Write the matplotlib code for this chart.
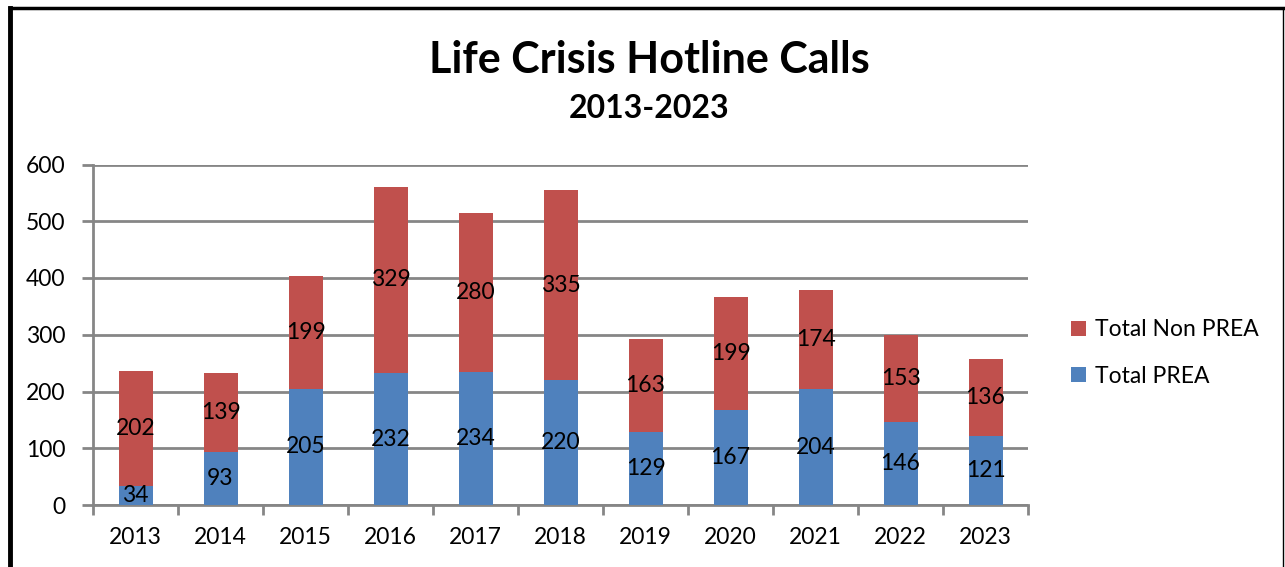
import matplotlib
matplotlib.use("Agg")
import matplotlib.pyplot as plt
from matplotlib.lines import Line2D
import numpy as np

years = ["2013", "2014", "2015", "2016", "2017", "2018", "2019", "2020", "2021", "2022", "2023"]
prea = [34, 93, 205, 232, 234, 220, 129, 167, 204, 146, 121]
non_prea = [202, 139, 199, 329, 280, 335, 163, 199, 174, 153, 136]

plt.rcParams['font.family'] = ['Lato', 'DejaVu Sans']

blue = '#4F81BD'
red = '#C0504D'
grid_col = '#868686'

fig = plt.figure(figsize=(12.85, 5.67), dpi=100)
ax = fig.add_axes([93/1285, 1 - 505/567, (1028 - 93)/1285, (505 - 164.5)/567])

x = np.arange(len(years))
b1 = ax.bar(x, prea, width=0.4, color=blue, label="Total PREA", zorder=3)
b2 = ax.bar(x, non_prea, width=0.4, bottom=prea, color=red, label="Total Non PREA", zorder=3)

# value labels centred in each segment
for i in range(len(years)):
    ax.text(x[i], prea[i] / 2, str(prea[i]), ha='center', va='center', fontsize=16.5, zorder=4)
    ax.text(x[i], prea[i] + non_prea[i] / 2, str(non_prea[i]), ha='center', va='center', fontsize=16.5, zorder=4)

ax.set_xlim(-0.5, len(years) - 0.5)
ax.set_ylim(0, 600)
ax.set_yticks(range(0, 601, 100))
ax.yaxis.grid(True, color=grid_col, lw=2, zorder=0)
ax.set_axisbelow(True)

ax.set_xticks(x)
ax.set_xticklabels(years, fontsize=16.5)
ax.set_xticks(np.arange(-0.5, len(years) + 0.5, 1), minor=True)
ax.tick_params(axis='x', which='major', length=0, pad=16)
ax.tick_params(axis='x', which='minor', length=7, width=2, color=grid_col, direction='out')
ax.tick_params(axis='y', length=8, width=2, color=grid_col, labelsize=16.5, pad=12)

for s in ['top', 'right']:
    ax.spines[s].set_visible(False)
for s in ['left', 'bottom']:
    ax.spines[s].set_color(grid_col)
    ax.spines[s].set_linewidth(2)

handles = [b2, b1]
fig.legend(handles, [h.get_label() for h in handles], loc='center left',
           bbox_to_anchor=(1050/1285, 1 - 353/567), frameon=False, fontsize=16.5,
           handlelength=0.65, handleheight=0.65, handletextpad=0.4, labelspacing=1.1)

fig.text(0.505, 1 - 60/567, "Life Crisis Hotline Calls", ha='center', va='center',
         fontsize=31, fontweight='bold')
fig.text(0.505, 1 - 108/567, "2013-2023", ha='center', va='center',
         fontsize=23, fontweight='bold')

# outer chart border
fig.add_artist(Line2D([10/1285, 10/1285], [0, 1 - 8/567], color='black', lw=3.5, transform=fig.transFigure))
fig.add_artist(Line2D([10/1285, 1283/1285], [1 - 8/567, 1 - 8/567], color='black', lw=2.5, transform=fig.transFigure))
fig.add_artist(Line2D([1283/1285, 1283/1285], [0, 1 - 8/567], color='black', lw=1, transform=fig.transFigure))

fig.savefig("out.png", dpi=100, facecolor='white')
